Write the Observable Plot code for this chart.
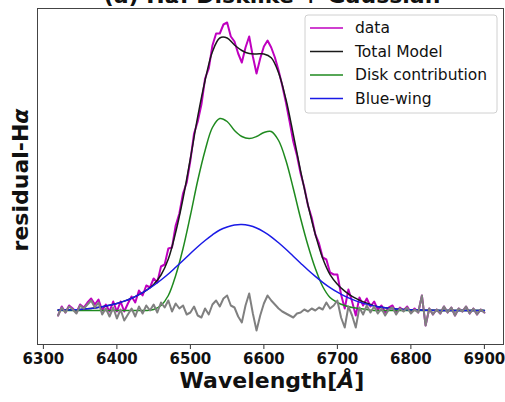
<!DOCTYPE html>
<html>
<head>
<meta charset="utf-8">
<script src="https://cdn.jsdelivr.net/npm/d3@7"></script>
<script src="https://cdn.jsdelivr.net/npm/@observablehq/plot@0.6"></script>
<style>
  html, body { margin: 0; padding: 0; background: #fff; }
  #chart { width: 505px; height: 402px; overflow: hidden; }
</style>
</head>
<body>
<div id="chart"></div>
<script>
// ---- data ----
const titleText = "(a) H";
const xTicks = [6300, 6400, 6500, 6600, 6700, 6800, 6900];
const legendLabels = ["data", "Total Model", "Disk contribution", "Blue-wing"];

// model grid: 6320..6900 every 10 Å
const modelWave = d3.range(6320, 6901, 10);
const diskContribution = [
  0,0,0,0,0,0,0,0,0,0,0,0,0,
  0.01,0.05,0.15,0.35,0.62,0.95,1.30,1.60,1.83,1.92,1.89,1.80,1.74,1.72,1.74,1.78,1.79,1.70,1.50,1.22,0.92,0.65,0.42,0.24,0.13,0.08,0.05,0.03,0.02,0.01,
  0,0,0,0,0,0,0,0,0,0,0,0,0,0,0,0
];
const blueWing = [
  0.004,0.005,0.007,0.011,0.017,0.026,0.037,0.052,0.070,0.094,0.123,0.159,0.201,
  0.250,0.305,0.365,0.432,0.500,0.570,0.638,0.700,0.757,0.805,0.835,0.855,0.860,
  0.849,0.825,0.786,0.737,0.677,0.612,0.542,0.473,0.405,0.341,0.282,0.229,0.183,
  0.143,0.111,0.084,0.063,0.046,0.033,0.023,0.016,0.011,0.007,
  0.005,0.003,0.002,0.001,0.001,0,0,0,0,0
];
const totalModel = [
  0.004,0.005,0.007,0.011,0.017,0.026,0.037,0.052,0.070,0.094,0.123,0.159,0.201,
  0.260,0.355,0.515,0.782,1.120,1.520,1.938,2.300,2.587,2.725,2.725,2.655,2.600,
  2.569,2.565,2.566,2.527,2.377,2.112,1.762,1.393,1.055,0.761,0.522,0.359,0.263,
  0.193,0.141,0.104,0.073,0.046,0.033,0.023,0.016,0.011,0.007,
  0.005,0.003,0.002,0.001,0.001,0,0,0,0,0
];

// observed spectrum grid: 6320..6900 every 5 Å
const dataWave = d3.range(6320, 6901, 5);
const dataFlux = [
  -0.05,0.04,-0.02,0.05,0.02,-0.02,0.06,0.03,0.08,0.12,0.06,0.11,0.00,0.06,-0.01,0.09,
  -0.01,0.09,-0.01,0.07,0.14,0.08,0.20,0.15,0.25,0.23,0.32,0.28,0.44,0.46,0.62,0.63,
  0.85,0.97,1.17,1.28,1.50,1.77,1.89,2.06,2.32,2.42,2.65,2.77,2.77,2.86,2.88,2.74,
  2.69,2.57,2.48,2.63,2.74,2.54,2.37,2.52,2.64,2.70,2.63,2.53,2.40,2.25,2.08,1.89,
  1.69,1.55,1.37,1.23,1.05,0.93,0.76,0.67,0.53,0.51,0.38,0.36,0.36,0.16,0.02,0.21,
  0.09,-0.05,0.13,0.05,0.12,0.04,0.09,0.01,0.05,-0.02,0.03,0.05,-0.02,0.03,0.00,0.04,
  -0.02,0.02,-0.02,0.15,-0.15,0.02,-0.04,0.01,-0.03,0.04,-0.02,0.03,-0.05,0.02,-0.01,0.04,
  -0.03,0.02,-0.04,0.01,-0.02
];
const residual = [
  -0.05,0.03,-0.02,0.04,0.01,-0.03,0.05,0.02,0.06,0.10,0.03,0.08,-0.04,0.02,-0.06,0.03,
  -0.08,0.01,-0.10,-0.04,0.02,-0.06,0.04,-0.03,0.05,0.00,0.06,-0.02,0.08,0.03,0.10,-0.01,
  0.07,0.02,0.05,-0.04,-0.02,0.04,-0.05,-0.07,0.02,-0.04,0.06,0.10,0.04,0.12,0.15,0.05,
  0.03,-0.06,-0.12,0.05,0.17,-0.03,-0.20,-0.05,0.07,0.15,0.10,0.06,0.02,-0.01,-0.03,-0.05,
  -0.07,-0.03,-0.02,0.01,-0.01,0.02,0.00,0.03,0.01,0.08,0.02,0.05,0.10,-0.07,-0.17,0.04,
  -0.05,-0.17,0.03,-0.04,0.05,-0.02,0.04,-0.03,0.02,-0.05,0.01,0.03,-0.04,0.02,-0.01,0.03,
  -0.03,0.01,-0.02,0.15,-0.15,0.02,-0.04,0.01,-0.03,0.04,-0.02,0.03,-0.05,0.02,-0.01,0.04,
  -0.03,0.02,-0.04,0.01,-0.02
];

// ---- styles ----
const C = { data: "#bf00bf", total: "#1a1a1a", disk: "#1f8a1f", blue: "#1a1ae6", resid: "#808080" };

const model = modelWave.map((w, i) => ({ w, disk: diskContribution[i], blue: blueWing[i], total: totalModel[i] }));
const obs = dataWave.map((w, i) => ({ w, flux: dataFlux[i], resid: residual[i] }));

const W = 505, H = 402;
const mL = 37, mR = 2, mT = 8, mB = 58;

const plot = Plot.plot({
  width: W, height: H,
  marginLeft: mL, marginRight: mR, marginTop: mT, marginBottom: mB,
  style: { fontFamily: "DejaVu Sans", background: "white", overflow: "visible" },
  x: { domain: [6292, 6926], axis: null },
  y: { domain: [-0.34, 3.02], axis: null },
  marks: [
    Plot.line(obs, { x: "w", y: "flux", stroke: C.data, strokeWidth: 2 }),
    Plot.line(model, { x: "w", y: "total", stroke: C.total, strokeWidth: 1.5, curve: "catmull-rom" }),
    Plot.line(model, { x: "w", y: "disk", stroke: C.disk, strokeWidth: 1.5, curve: "catmull-rom" }),
    Plot.line(model, { x: "w", y: "blue", stroke: C.blue, strokeWidth: 1.5, curve: "catmull-rom" }),
    Plot.line(obs, { x: "w", y: "resid", stroke: C.resid, strokeWidth: 2 }),
    Plot.axisX({ ticks: xTicks, tickSize: 5, tickPadding: 4, tickFormat: d => String(d),
                 fontSize: 15, fontWeight: "bold", stroke: "#333", fill: "#111", label: null }),
    Plot.frame({ stroke: "#444", strokeWidth: 1 })
  ]
});

const svg = d3.select(plot);
const cx = (mL + (W - mR)) / 2;

// clipped title at the very top (as in the reference)
const t = svg.append("text").attr("x", cx + 2).attr("y", 3).attr("text-anchor", "middle")
  .attr("font-family", "DejaVu Sans").attr("font-weight", "bold").attr("font-size", 22).attr("fill", "#111");
t.append("tspan").text(titleText);
t.append("tspan").attr("font-style", "italic").text("α");
t.append("tspan").text(": Disklike + Gaussian");

// x label
const xl = svg.append("text").attr("x", cx + 2).attr("y", 388).attr("text-anchor", "middle")
  .attr("font-family", "DejaVu Sans").attr("font-weight", "bold").attr("font-size", 22).attr("fill", "#111");
xl.append("tspan").text("Wavelength[");
xl.append("tspan").attr("font-style", "italic").text("Å");
xl.append("tspan").text("]");

// y label
const yl = svg.append("text").attr("transform", "translate(28,180) rotate(-90)").attr("text-anchor", "middle")
  .attr("font-family", "DejaVu Sans").attr("font-weight", "bold").attr("font-size", 22).attr("fill", "#111");
yl.append("tspan").text("residual-H");
yl.append("tspan").attr("font-style", "italic").text("α");

// legend
const lg = svg.append("g").attr("text-anchor", "start");
lg.append("rect").attr("x", 305).attr("y", 15).attr("width", 192).attr("height", 98).attr("rx", 3)
  .attr("fill", "white").attr("fill-opacity", 0.85).attr("stroke", "#d0d0d0");
const lcol = [C.data, C.total, C.disk, C.blue];
legendLabels.forEach((lab, i) => {
  const y = 28 + i * 23.5;
  lg.append("line").attr("x1", 310).attr("x2", 343).attr("y1", y).attr("y2", y)
    .attr("stroke", lcol[i]).attr("stroke-width", 1.6);
  lg.append("text").attr("x", 355).attr("y", y).attr("dy", "0.35em").attr("text-anchor", "start")
    .attr("font-family", "DejaVu Sans").attr("font-size", 15.5).attr("fill", "#111").text(lab);
});

document.getElementById("chart").appendChild(plot);
</script>
</body>
</html>
